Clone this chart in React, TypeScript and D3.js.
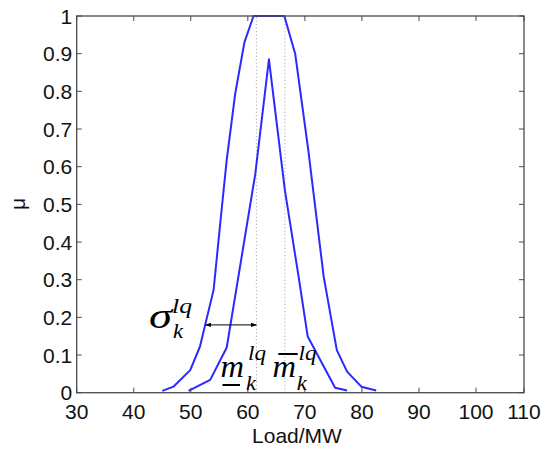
import React from "react";
import * as d3 from "d3";

// ---- data ----
const xTicks = [30, 40, 50, 60, 70, 80, 90, 100, 110];
const yTicks = [0, 0.1, 0.2, 0.3, 0.4, 0.5, 0.6, 0.7, 0.8, 0.9, 1];
const yTickLabels = ["0", "0.1", "0.2", "0.3", "0.4", "0.5", "0.6", "0.7", "0.8", "0.9", "1"];

// upper (outer) membership function
const upperLoad = [45.0, 46.95, 49.9, 51.6, 54.0, 55.4, 56.3, 57.8, 59.4, 61.0, 66.4, 68.3, 70.6, 73.3, 75.6, 77.4, 79.9, 82.5];
const upperMu = [0.005, 0.016, 0.06, 0.122, 0.273, 0.485, 0.618, 0.795, 0.93, 1.0, 1.0, 0.9, 0.644, 0.308, 0.113, 0.056, 0.016, 0.006];

// lower (inner) membership function
const lowerLoad = [49.6, 53.4, 56.3, 61.3, 63.7, 66.5, 68.9, 70.5, 75.3, 77.4];
const lowerMu = [0.005, 0.034, 0.12, 0.58, 0.885, 0.537, 0.308, 0.149, 0.013, 0.006];

// dotted mean lines and sigma arrow
const meanLines = [61.5, 66.5];
const sigmaFrom = 52.6;
const sigmaTo = 61.5;
const sigmaMu = 0.18;

const W = 545;
const H = 450;

export default function App() {
  const x = d3.scaleLinear().domain([30, 100, 110]).range([76.7, 476, 524]);
  const y = d3.scaleLinear().domain([0, 1]).range([392.7, 16]);
  const [x0, x1] = [x(30), x(110)];
  const [y0, y1] = [y(0), y(1)];

  const line = d3
    .line<[number, number]>()
    .x((d) => x(d[0]))
    .y((d) => y(d[1]));
  const upperPts: [number, number][] = upperLoad.map((v, i) => [v, upperMu[i]]);
  const lowerPts: [number, number][] = lowerLoad.map((v, i) => [v, lowerMu[i]]);

  const tickLen = 5;
  const axisColor = "#4a4a4a";
  const blue = "#2a2aff";
  const sans = "'Liberation Sans', Arial, sans-serif";
  const serif = "'Liberation Serif', 'Times New Roman', serif";

  const sx = x(sigmaFrom);
  const ex = x(sigmaTo);
  const ay = y(sigmaMu);

  const it = (props: any, s: string) => (
    <text fontFamily={serif} fontStyle="italic" fill="#000" lengthAdjust="spacingAndGlyphs" {...props}>
      {s}
    </text>
  );

  return (
    <svg
      width={W}
      height={H}
      style={{ position: "absolute", left: 0, top: 0, background: "#fff" }}
    >
      <defs>
        <marker id="ah" viewBox="0 0 10 10" refX="9" refY="5" markerWidth="6" markerHeight="6" orient="auto-start-reverse">
          <path d="M0,1.5 L10,5 L0,8.5 z" fill="#000" />
        </marker>
      </defs>
      <rect x={0} y={0} width={W} height={H} fill="#fff" />

      {/* dotted mean lines */}
      {meanLines.map((m, i) => (
        <line key={i} x1={x(m)} x2={x(m)} y1={y0} y2={y1} stroke="#9a9a9a" strokeWidth={1} strokeDasharray="1,2.5" />
      ))}

      {/* curves */}
      <path d={line(upperPts) || ""} fill="none" stroke={blue} strokeWidth={2} strokeLinejoin="round" />
      <path d={line(lowerPts) || ""} fill="none" stroke={blue} strokeWidth={2} strokeLinejoin="round" />

      {/* sigma arrow */}
      <line x1={sx} x2={ex} y1={ay} y2={ay} stroke="#000" strokeWidth={1} markerStart="url(#ah)" markerEnd="url(#ah)" />

      {/* axes box */}
      <rect x={x0} y={y1} width={x1 - x0} height={y0 - y1} fill="none" stroke={axisColor} strokeWidth={1.3} />

      {/* x ticks */}
      {xTicks.map((t) => (
        <g key={"x" + t}>
          <line x1={x(t)} x2={x(t)} y1={y0} y2={y0 - tickLen} stroke={axisColor} strokeWidth={1} />
          <line x1={x(t)} x2={x(t)} y1={y1} y2={y1 + tickLen} stroke={axisColor} strokeWidth={1} />
          <text x={x(t)} y={y0 + 26} textAnchor="middle" fontFamily={sans} fontSize={21} fill="#111">
            {t}
          </text>
        </g>
      ))}

      {/* y ticks */}
      {yTicks.map((t, i) => (
        <g key={"y" + t}>
          <line x1={x0} x2={x0 + tickLen} y1={y(t)} y2={y(t)} stroke={axisColor} strokeWidth={1} />
          <line x1={x1} x2={x1 - tickLen} y1={y(t)} y2={y(t)} stroke={axisColor} strokeWidth={1} />
          <text x={x0 - 4.5} y={y(t)} dy="0.36em" textAnchor="end" fontFamily={sans} fontSize={21} fill="#111">
            {yTickLabels[i]}
          </text>
        </g>
      ))}

      {/* axis labels */}
      <text x={297} y={442.5} textAnchor="middle" fontFamily={sans} fontSize={21} fill="#111">
        Load/MW
      </text>
      <text transform="translate(25,204) rotate(-90)" textAnchor="middle" fontFamily={sans} fontSize={21} fill="#111">
        μ
      </text>

      {/* sigma annotation */}
      {it({ x: 149, y: 328, fontSize: 35, textLength: 23 }, "σ")}
      {it({ x: 172, y: 313, fontSize: 20, textLength: 20 }, "lq")}
      {it({ x: 173, y: 337.5, fontSize: 20, textLength: 10 }, "k")}

      {/* lower mean annotation */}
      {it({ x: 220.5, y: 377, fontSize: 32, textLength: 23.5 }, "m")}
      <line x1={222.5} x2={240} y1={385} y2={385} stroke="#000" strokeWidth={2} />
      {it({ x: 248, y: 360, fontSize: 20, textLength: 18 }, "lq")}
      {it({ x: 246, y: 390, fontSize: 20, textLength: 10 }, "k")}

      {/* upper mean annotation */}
      {it({ x: 272.5, y: 377, fontSize: 32, textLength: 23.5 }, "m")}
      <line x1={278.3} x2={297.7} y1={354} y2={354} stroke="#000" strokeWidth={2} />
      {it({ x: 298.5, y: 360, fontSize: 20, textLength: 18 }, "lq")}
      {it({ x: 296.7, y: 390, fontSize: 20, textLength: 10 }, "k")}
    </svg>
  );
}
